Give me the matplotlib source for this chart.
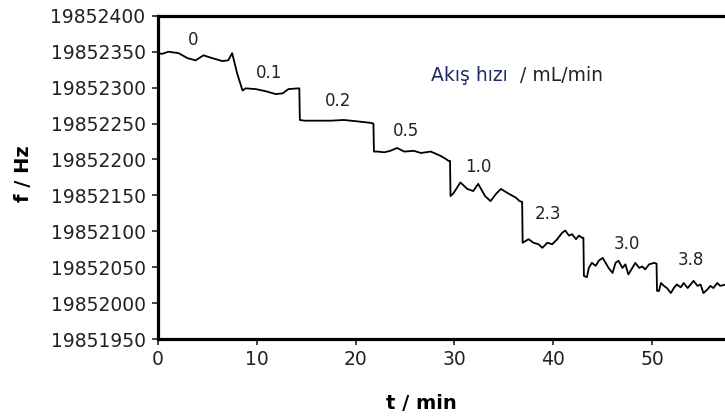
import numpy as np
import matplotlib
matplotlib.use("Agg")
import matplotlib.pyplot as plt

# trace: time (min) and frequency (Hz)
t_min = [0, 0.4, 1.06, 2.07, 2.99, 3.8, 4.6, 5.5, 6.5, 7.1, 7.5, 8.0, 8.55,
         8.86, 9.87, 10.9, 11.9, 12.6, 13.2, 14.2, 14.3,
         14.35, 14.8, 16.1, 17.5, 18.8, 20.2, 21.5, 21.8,
         21.85, 22.2, 22.9, 23.5, 24.2, 24.9, 25.9, 26.6, 27.6, 28.6, 29.1, 29.4, 29.55,
         29.6, 29.9, 30.6, 31.3, 31.9, 32.4, 33.1, 33.65, 34.2, 34.7, 35.4, 36.2, 36.6, 36.85,
         36.9, 37.5, 38.0, 38.5, 38.9, 39.4, 39.9, 40.4, 40.9, 41.2, 41.6, 41.9, 42.3, 42.6, 42.9, 43.05,
         43.1, 43.4, 43.6, 43.9, 44.3, 44.6, 45.0, 45.3, 45.6, 46.0, 46.3, 46.6, 47.0, 47.3, 47.6,
         48.0, 48.3, 48.7, 49.0, 49.3, 49.7, 50.2, 50.45,
         50.5, 50.7, 50.9, 51.2, 51.5, 51.9, 52.2, 52.5, 52.9, 53.2, 53.6, 53.9, 54.2, 54.6,
         54.9, 55.2, 55.6, 55.9, 56.2, 56.6, 56.9, 57.5, 58.0]
f_hz = [19852348, 19852347, 19852350, 19852348, 19852341, 19852338, 19852345, 19852341,
        19852337, 19852338, 19852348, 19852320, 19852296,
        19852299, 19852298, 19852295, 19852291, 19852292, 19852298, 19852299, 19852299,
        19852255, 19852254, 19852254, 19852254, 19852255, 19852253, 19852251, 19852250,
        19852211, 19852211, 19852210, 19852212, 19852216, 19852211, 19852212, 19852209,
        19852211, 19852205, 19852201, 19852198, 19852198,
        19852149, 19852153, 19852168, 19852159, 19852156, 19852166, 19852149, 19852142,
        19852152, 19852159, 19852153, 19852147, 19852142, 19852141,
        19852084, 19852089, 19852084, 19852082, 19852077, 19852084, 19852082, 19852089,
        19852098, 19852101, 19852094, 19852096, 19852089, 19852094, 19852091, 19852091,
        19852038, 19852036, 19852049, 19852056, 19852052, 19852059, 19852063, 19852056,
        19852049, 19852042, 19852056, 19852059, 19852049, 19852054, 19852040,
        19852049, 19852056, 19852049, 19852051, 19852047, 19852054, 19852056, 19852055,
        19852017, 19852017, 19852028, 19852024, 19852021, 19852014, 19852021, 19852026,
        19852022, 19852028, 19852021, 19852026, 19852031, 19852024,
        19852026, 19852014, 19852019, 19852024, 19852021, 19852028, 19852024, 19852026, 19852022]

# flow rate labels and where they sit
flow_labels = ["0", "0.1", "0.2", "0.5", "1.0", "2.3", "3.0", "3.8"]
label_t = [3.6, 11.2, 18.2, 25.1, 32.4, 39.5, 47.4, 53.9]
label_f = [19852366, 19852320, 19852281, 19852240, 19852190, 19852124, 19852082, 19852060]

x_ticks = [0, 10, 20, 30, 40, 50]
y_ticks = list(range(19851950, 19852401, 50))

plt.rcParams['font.family'] = ['DejaVu Sans']

fig = plt.figure(figsize=(7.25, 4.16), dpi=100)
# axes run past the right edge of the figure (cropped like the original)
ax = fig.add_axes([0.218, 0.185, 0.8177, 0.777])

ax.plot(t_min, f_hz, color='black', linewidth=1.3)

for lab, tx, fy in zip(flow_labels, label_t, label_f):
    ax.text(tx, fy, lab, ha='center', va='center', fontsize=12, color='#222222')

ax.text(27.6, 19852317, "Akış hızı", ha='left', va='center', fontsize=13.5, color='#1f2a60')
ax.text(36.6, 19852317, "/ mL/min", ha='left', va='center', fontsize=13.5, color='#222222')

ax.set_xlim(0, 60)
ax.set_ylim(19851950, 19852400)
ax.set_xticks(x_ticks)
ax.set_yticks(y_ticks)
ax.set_yticklabels([str(v) for v in y_ticks])
ax.tick_params(axis='both', direction='out', length=4, width=1.2, labelsize=13.5,
               colors='#222222', pad=5)
ax.tick_params(axis='x', pad=4)

for side in ['left', 'bottom', 'top']:
    ax.spines[side].set_linewidth(2.3)
ax.spines['right'].set_visible(False)

fig.text(0.032, 0.583, "f / Hz", rotation=90, ha='center', va='center',
         fontsize=14, fontweight='bold')
fig.text(0.581, 0.03, "t / min", ha='center', va='center',
         fontsize=14, fontweight='bold')

fig.savefig("out.png", dpi=100)
